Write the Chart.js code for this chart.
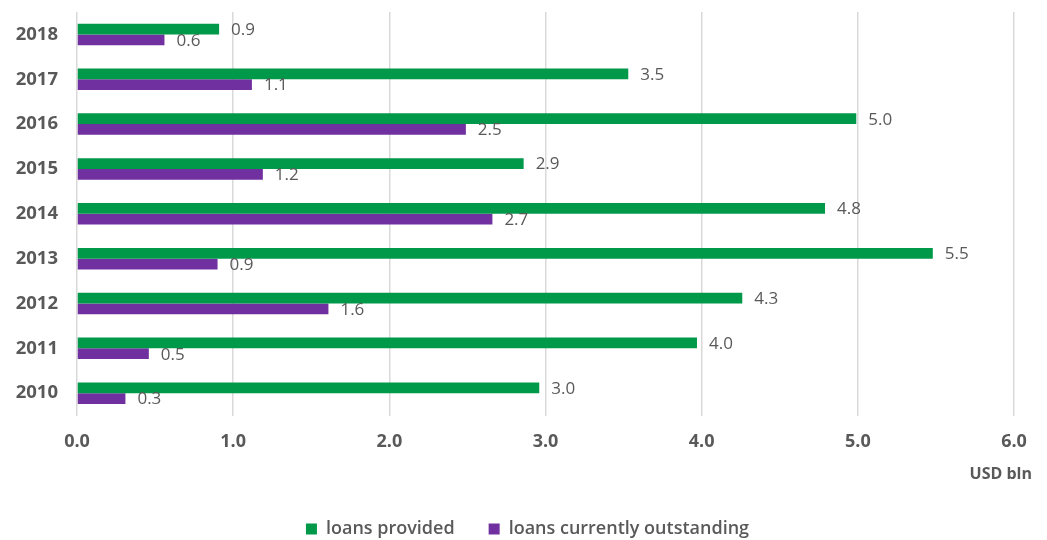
<!DOCTYPE html>
<html>
<head>
<meta charset="utf-8">
<script src="https://cdn.jsdelivr.net/npm/chart.js@4/dist/chart.umd.min.js"></script>
<style>
    html, body { margin: 0; padding: 0; background: #fff; }
</style>
</head>
<body>
<canvas id="loansChart" width="1047" height="540"></canvas>
<script>
// Data (top to bottom as shown)
const years = ['2018', '2017', '2016', '2015', '2014', '2013', '2012', '2011', '2010'];
const loansProvided = [0.91, 3.53, 4.99, 2.86, 4.79, 5.48, 4.26, 3.97, 2.96];
const loansOutstanding = [0.56, 1.12, 2.49, 1.19, 2.66, 0.90, 1.61, 0.46, 0.31];
const xTicks = [0, 1, 2, 3, 4, 5, 6];

const textColor = '#595959';
const fontFamily = '"Open Sans", Lato, sans-serif';

// Value labels at the end of each bar
const valueLabels = {
    id: 'valueLabels',
    afterDatasetsDraw(chart) {
        const ctx = chart.ctx;
        ctx.save();
        ctx.font = '17px ' + fontFamily;
        ctx.fillStyle = textColor;
        ctx.textAlign = 'left';
        ctx.textBaseline = 'middle';
        chart.data.datasets.forEach((ds, i) => {
            chart.getDatasetMeta(i).data.forEach((bar, j) => {
                ctx.fillText(ds.data[j].toFixed(1), bar.x + 12, bar.y + 1);
            });
        });
        ctx.restore();
    }
};

// Unit label under the right end of the axis
const unitLabel = {
    id: 'unitLabel',
    afterDraw(chart) {
        const ctx = chart.ctx;
        const area = chart.chartArea;
        ctx.save();
        ctx.font = 'bold 16px ' + fontFamily;
        ctx.fillStyle = textColor;
        ctx.textAlign = 'right';
        ctx.textBaseline = 'middle';
        ctx.fillText('USD bln', area.right + 18, area.bottom + 59);
        ctx.restore();
    }
};

new Chart(document.getElementById('loansChart'), {
    type: 'bar',
    data: {
        labels: years,
        datasets: [{
            label: 'loans provided',
            data: loansProvided,
            backgroundColor: '#00994a',
            borderWidth: 0,
            categoryPercentage: 0.48,
            barPercentage: 1.0
        }, {
            label: 'loans currently outstanding',
            data: loansOutstanding,
            backgroundColor: '#7030a0',
            borderWidth: 0,
            categoryPercentage: 0.48,
            barPercentage: 1.0
        }]
    },
    options: {
        indexAxis: 'y',
        responsive: false,
        animation: false,
        layout: {
            padding: { top: 12, right: 0, bottom: -8, left: 8 }
        },
        plugins: {
            legend: {
                position: 'bottom',
                labels: {
                    color: textColor,
                    font: { family: fontFamily, size: 18, weight: '600' },
                    boxWidth: 11,
                    boxHeight: 11,
                    padding: 34
                }
            },
            tooltip: { enabled: false }
        },
        scales: {
            x: {
                min: 0,
                max: 6,
                afterBuildTicks: function(scale) {
                    scale.ticks = xTicks.map(v => ({ value: v }));
                },
                afterFit: function(scale) {
                    scale.paddingRight = 33;
                },
                grid: { color: '#d9d9d9', lineWidth: 1.5, drawTicks: false },
                border: { display: false },
                ticks: {
                    color: textColor,
                    padding: 15,
                    font: { family: fontFamily, size: 18, weight: 'bold' },
                    callback: function(value) { return value.toFixed(1); }
                },
                title: {
                    display: true,
                    text: ' ',
                    padding: { top: 1, bottom: 1 },
                    font: { size: 14 }
                }
            },
            y: {
                grid: { display: false, drawTicks: false },
                border: { display: false },
                afterFit: function(scale) {
                    // labels sit inside the offset categories, no extra room needed
                    scale.paddingTop = 0;
                    scale.paddingBottom = 0;
                    scale.width = 69;
                },
                ticks: {
                    color: textColor,
                    padding: 19,
                    font: { family: fontFamily, size: 18.5, weight: 'bold' }
                }
            }
        }
    },
    plugins: [valueLabels, unitLabel]
});
</script>
</body>
</html>
